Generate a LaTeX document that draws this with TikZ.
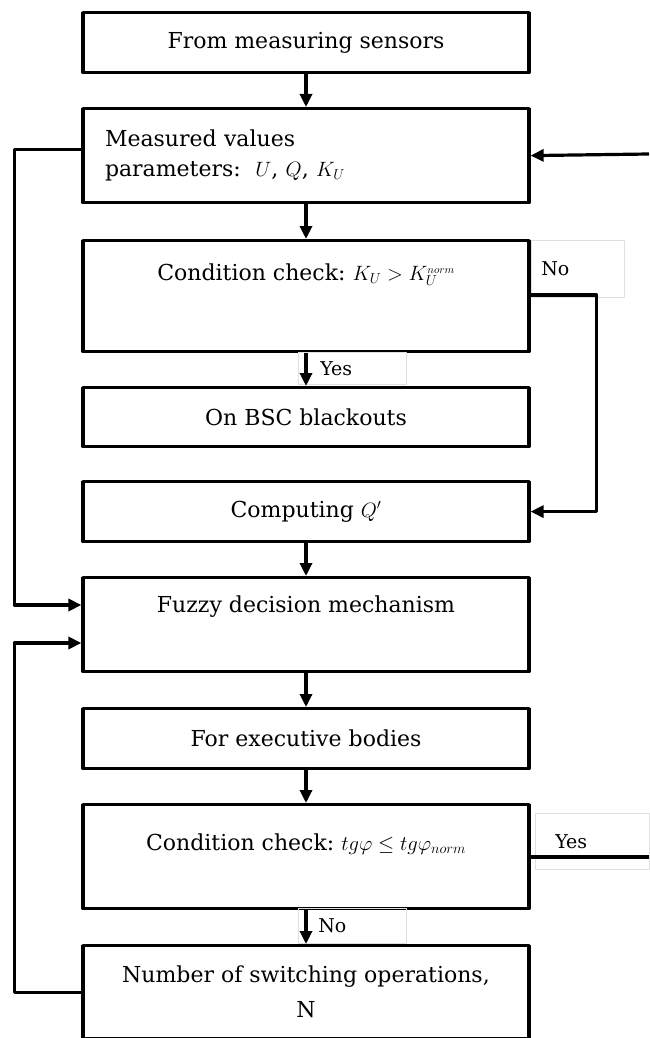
\documentclass[tikz,border=0pt]{standalone}
\usepackage{fontspec}
\setmainfont{DejaVu Serif}
\usetikzlibrary{arrows.meta,positioning}
\tikzset{
  blk/.style={draw, line width=3.2pt, minimum width=446pt, inner sep=0pt, anchor=north, align=center},
  tag/.style={draw=black!12, line width=0.5pt, inner ysep=0pt, inner xsep=#1, anchor=north west, align=left, font=\fontsize{19}{21}\selectfont},
  tag/.default=10pt,
  link/.style={line width=3.2pt}
}
\begin{document}
\begin{tikzpicture}[x=1pt, y=1pt, font=\fontsize{22}{26}\selectfont, line join=round, >={Triangle[length=13pt,width=12pt]}]
  \useasboundingbox (0,0) rectangle (649,-1038);
  % blocks
  \node[blk, minimum height=60pt] (src) at (306,-11) {From measuring sensors};
  \node[blk, minimum height=94pt, align=left, text width=402pt] (meas) at (306,-107)
    {Measured values\\[4pt] parameters:\ \ $U$, $Q$, $K_U$\\[14pt]};
  \node[blk, text height=40pt, text depth=71pt] (chk1) at (306,-239)
    {Condition check:\ $K_U>K_U^{\scriptscriptstyle norm}$};
  \node[blk, minimum height=59pt] (bsc) at (306,-386) {On BSC blackouts};
  \node[blk, minimum height=60pt] (comp) at (306,-480) {Computing\ $Q'$};
  \node[blk, text height=35pt, text depth=59pt] (fuzzy) at (306,-576) {Fuzzy decision mechanism};
  \node[blk, minimum height=60pt] (exec) at (306,-707) {For executive bodies};
  \node[blk, text height=46pt, text depth=58pt] (chk2) at (306,-803)
    {Condition check:\ $tg\varphi\le tg\varphi_{norm}$};
  \node[blk, minimum height=93pt] (num) at (306,-944) {Number of switching operations,\\[9pt] N};
  % answer tags
  \node[tag, text width=73pt, minimum height=57pt] (noA) at (531,-240) {No};
  \node[tag=22pt, text width=64pt, minimum height=32pt] (yesA) at (298,-352) {Yes};
  \node[tag=20pt, text width=74pt, minimum height=56pt] (yesB) at (535,-813) {Yes};
  \node[tag=20pt, text width=68pt, minimum height=35pt] (noB) at (298,-908) {No};
  \coordinate (inR) at (649,-154);
  \coordinate (outR) at (649,-857);
  % links
  \draw[link,->] (src) -- (meas);
  \draw[link,->] (meas) -- (chk1);
  \draw[link,->] (chk1) -- (bsc);
  \draw[link,->] (comp) -- (fuzzy);
  \draw[link,->] (fuzzy) -- (exec);
  \draw[link,->] (exec) -- (chk2);
  \draw[link,->] (chk2) -- (num);
  \draw[link,->] (inR) -- (meas.east);
  \draw[link,->] ([yshift=-56pt]chk1.north east) -- ++(66,0) |- (comp.east);
  \draw[link] ([yshift=-54pt]chk2.north east) -- (outR);
  \draw[link,->] ([yshift=6pt]meas.west) -- ++(-67,0) |- ([yshift=-29pt]fuzzy.north west);
  \draw[link,->] (num.west) -- ++(-67,0) |- ([yshift=-67pt]fuzzy.north west);
\end{tikzpicture}
\end{document}
